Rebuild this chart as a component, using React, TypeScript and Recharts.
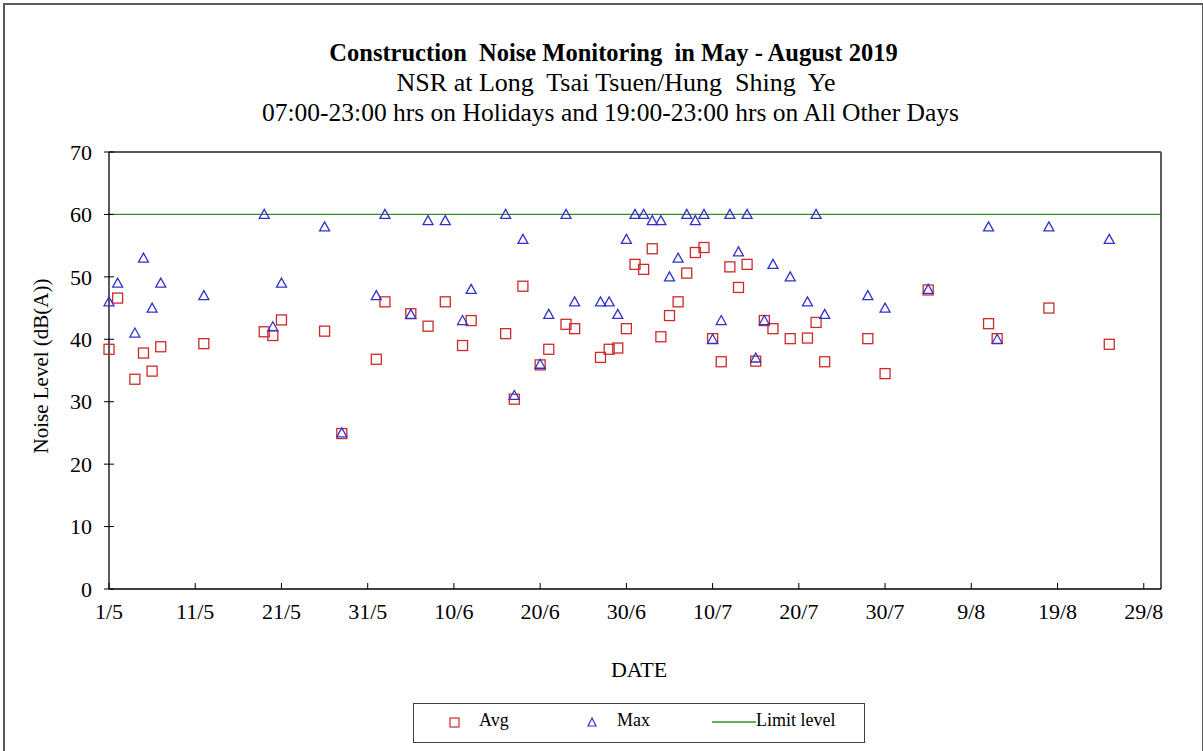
import { ScatterChart, Scatter, XAxis, YAxis, ReferenceLine } from "recharts";

// monitoring dates (d/m, 2019)
const dates = [
  "1/5", "2/5", "4/5", "5/5", "6/5", "7/5", "12/5", "19/5", "20/5", "21/5",
  "26/5", "28/5", "1/6", "2/6", "5/6", "7/6", "9/6", "11/6", "12/6", "16/6",
  "17/6", "18/6", "20/6", "21/6", "23/6", "24/6", "27/6", "28/6", "29/6", "30/6",
  "1/7", "2/7", "3/7", "4/7", "5/7", "6/7", "7/7", "8/7", "9/7", "10/7",
  "11/7", "12/7", "13/7", "14/7", "15/7", "16/7", "17/7", "19/7", "21/7", "22/7",
  "23/7", "28/7", "30/7", "4/8", "11/8", "12/8", "18/8", "25/8",
];

const avgLevels = [
  38.4, 46.6, 33.6, 37.8, 34.9, 38.8, 39.3, 41.2, 40.6, 43.1,
  41.3, 24.9, 36.8, 46.0, 44.1, 42.1, 46.0, 39.0, 43.0, 40.9,
  30.4, 48.5, 35.9, 38.4, 42.4, 41.7, 37.1, 38.4, 38.6, 41.7,
  52.0, 51.2, 54.5, 40.4, 43.8, 46.0, 50.6, 53.9, 54.7, 40.1,
  36.4, 51.6, 48.3, 52.0, 36.5, 43.0, 41.7, 40.1, 40.2, 42.7,
  36.4, 40.1, 34.5, 47.9, 42.5, 40.1, 45.0, 39.2,
];

const maxLevels = [
  46, 49, 41, 53, 45, 49, 47, 60, 42, 49,
  58, 25, 47, 60, 44, 59, 59, 43, 48, 60,
  31, 56, 36, 44, 60, 46, 46, 46, 44, 56,
  60, 60, 59, 59, 50, 53, 60, 59, 60, 40,
  43, 60, 54, 60, 37, 43, 52, 50, 46, 60,
  44, 47, 45, 48, 58, 40, 58, 56,
];

const limitLevel = 60;

const xTickLabels = ["1/5", "11/5", "21/5", "31/5", "10/6", "20/6", "30/6", "10/7", "20/7", "30/7", "9/8", "19/8", "29/8"];
const xAxisEnd = "31/8";
const yTicks = [0, 10, 20, 30, 40, 50, 60, 70];

const FONT = '"Liberation Serif", "Times New Roman", serif';
const AVG_COLOR = "#cc2a2a";
const MAX_COLOR = "#3333cc";
const LIMIT_COLOR = "#2f8f2f";
const FRAME = "#595959";

// days since 1 May 2019
function dayOf(label: string) {
  const [d, m] = label.split("/").map(Number);
  return Math.round((Date.UTC(2019, m - 1, d) - Date.UTC(2019, 4, 1)) / 86400000);
}

const avgData = dates.map((d, i) => ({ day: dayOf(d), level: avgLevels[i] }));
const maxData = dates.map((d, i) => ({ day: dayOf(d), level: maxLevels[i] }));
const xTicks = xTickLabels.map(dayOf);
const xMax = dayOf(xAxisEnd);

const Square = (props: any) => {
  const { cx, cy } = props;
  return <rect x={cx - 5} y={cy - 5} width={10} height={10} fill="none" stroke={AVG_COLOR} strokeWidth={1.3} />;
};

const Triangle = (props: any) => {
  const { cx, cy } = props;
  return (
    <polygon
      points={`${cx},${cy - 5} ${cx + 5},${cy + 4} ${cx - 5},${cy + 4}`}
      fill="none"
      stroke={MAX_COLOR}
      strokeWidth={1.3}
    />
  );
};

const YTick = (props: any) => {
  const { x, y, payload } = props;
  return (
    <g>
      <line x1={x - 5} x2={x + 5} y1={y} y2={y} stroke="#000" />
      <text x={x - 17} y={y} dy="0.35em" textAnchor="end" fontSize={22} fontFamily={FONT} fill="#000">
        {payload.value}
      </text>
    </g>
  );
};

const XTick = (props: any) => {
  const { x, y, payload, index } = props;
  return (
    <g>
      <line x1={x} x2={x} y1={y - 6} y2={y} stroke="#000" />
      <text x={x} y={y + 22} dy="0.35em" textAnchor="middle" fontSize={22} fontFamily={FONT} fill="#000">
        {xTickLabels[index] ?? payload.value}
      </text>
    </g>
  );
};

const titleStyle = (center: number, width: number, size: number, bold = false): React.CSSProperties => ({
  position: "absolute",
  left: 0,
  width,
  top: center - 15,
  height: 30,
  lineHeight: "30px",
  textAlign: "center",
  whiteSpace: "pre",
  fontSize: size,
  fontWeight: bold ? "bold" : "normal",
});

export default function App() {
  return (
    <div style={{ position: "absolute", left: 0, top: 0, width: 1203, height: 751, background: "#fff", overflow: "hidden", fontFamily: FONT }}>
      <div style={{ position: "absolute", left: 3, top: 3, width: 1197, height: 760, border: `2px solid ${FRAME}` }} />

      <div style={titleStyle(53, 1227, 24.5, true)}>{"Construction  Noise Monitoring  in May - August 2019"}</div>
      <div style={titleStyle(83, 1232, 26)}>{"NSR at Long  Tsai Tsuen/Hung  Shing  Ye"}</div>
      <div style={titleStyle(113, 1221, 25.5)}>{"07:00-23:00 hrs on Holidays and 19:00-23:00 hrs on All Other Days"}</div>

      <div style={{ position: "absolute", left: 41, top: 366, transform: "translate(-50%, -50%) rotate(-90deg)", whiteSpace: "nowrap", fontSize: 21 }}>
        Noise Level (dB(A))
      </div>
      <div style={{ position: "absolute", left: 639, top: 670, transform: "translate(-50%, -50%)", fontSize: 22 }}>DATE</div>

      <div style={{ position: "absolute", left: 0, top: 0 }}>
        <ScatterChart width={1203} height={751} margin={{ top: 152, right: 42, bottom: 132, left: 49 }}>
          <XAxis
            type="number"
            dataKey="day"
            domain={[0, xMax]}
            ticks={xTicks}
            interval={0}
            tickSize={0}
            tickMargin={0}
            tickLine={false}
            axisLine={{ stroke: "#000", strokeWidth: 1.3 }}
            tick={<XTick />}
          />
          <YAxis
            type="number"
            dataKey="level"
            domain={[0, 70]}
            ticks={yTicks}
            interval={0}
            tickSize={0}
            tickMargin={0}
            tickLine={false}
            width={60}
            axisLine={{ stroke: "#000", strokeWidth: 1.3 }}
            tick={<YTick />}
          />
          <ReferenceLine y={70} stroke={FRAME} strokeWidth={2} />
          <ReferenceLine x={xMax} stroke={FRAME} strokeWidth={2} />
          <ReferenceLine y={limitLevel} stroke={LIMIT_COLOR} strokeWidth={1.3} />
          <Scatter name="Avg" data={avgData} shape={<Square />} isAnimationActive={false} />
          <Scatter name="Max" data={maxData} shape={<Triangle />} isAnimationActive={false} />
        </ScatterChart>
      </div>

      <div style={{ position: "absolute", left: 413, top: 703, width: 452, height: 40, border: "1.5px solid #404040", boxSizing: "border-box", fontSize: 18 }}>
        <svg width={452} height={36} style={{ position: "absolute", left: 0, top: 0 }}>
          <rect x={36} y={14} width={9} height={9} fill="none" stroke={AVG_COLOR} strokeWidth={1.2} />
          <polygon points="178,14 182,22 174,22" fill="none" stroke={MAX_COLOR} strokeWidth={1.2} />
          <line x1={298} x2={342} y1={18} y2={18} stroke={LIMIT_COLOR} strokeWidth={1.3} />
        </svg>
        <span style={{ position: "absolute", left: 65, top: 6 }}>Avg</span>
        <span style={{ position: "absolute", left: 203, top: 6 }}>Max</span>
        <span style={{ position: "absolute", left: 342, top: 6 }}>Limit level</span>
      </div>
    </div>
  );
}
